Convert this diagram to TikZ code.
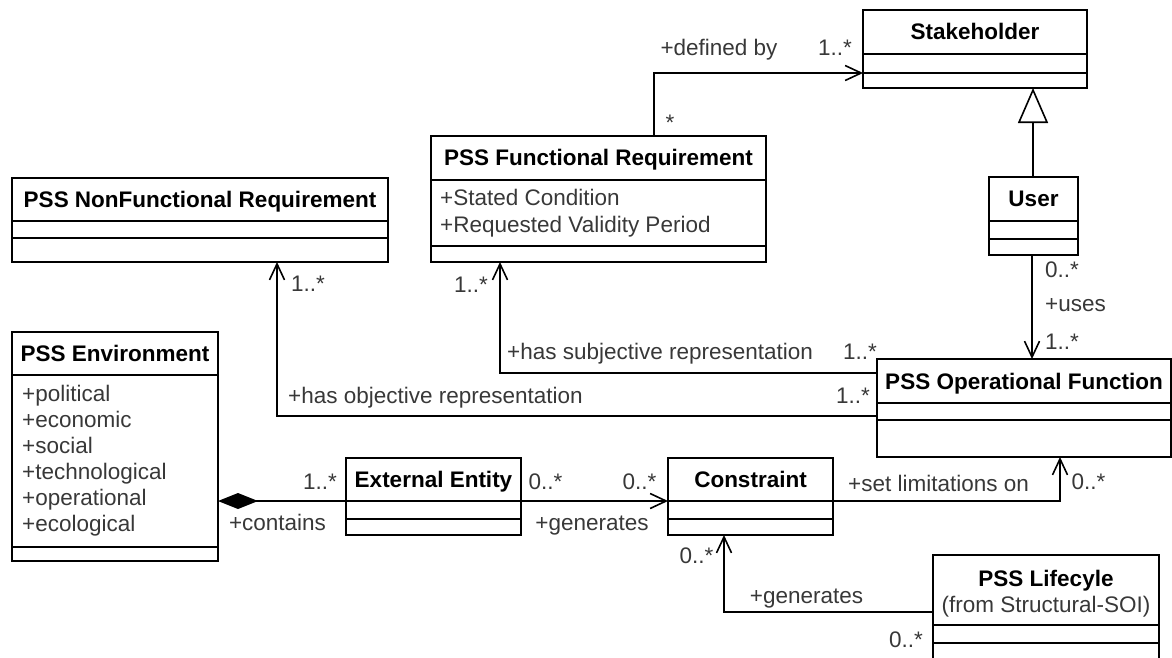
\documentclass[tikz,border=0pt]{standalone}
\usepackage{fontspec}
\setmainfont{Liberation Sans}
\usetikzlibrary{arrows.meta}
\definecolor{lbl}{gray}{0.22}
\newcommand\umlbox[7]{%
  \node[cls, minimum width={#4-#2}, minimum height={#5-#3}] (#1) at (#2,#3) {};
  \draw[divl] (#2,#6) -- (#4,#6);
  \draw[divl] (#2,#7) -- (#4,#7);
}
\begin{document}
\begin{tikzpicture}[x=1pt,y=-1pt,
  cls/.style={draw, line width=1.7pt, rectangle, anchor=north west, inner sep=0pt, outer sep=0pt},
  divl/.style={line width=1.7pt},
  conn/.style={line width=1.7pt},
  barb/.style={conn, -{Straight Barb[length=16pt,width=15pt,line width=1.6pt]}},
  gen/.style={conn, -{Triangle[open, fill=white, length=35pt, width=30pt, line width=1.6pt]}},
  comp/.style={conn, {Diamond[length=40pt, width=16pt]}-},
  title/.style={font=\fontsize{22.5}{27}\selectfont\bfseries, inner sep=0pt, anchor=mid, yshift=-4pt},
  sub/.style={font=\fontsize{22.5}{27}\selectfont, text=lbl, inner sep=0pt, anchor=mid, yshift=-4pt},
  attr/.style={font=\fontsize{22.5}{27}\selectfont, text=lbl, inner sep=0pt, anchor=mid west, yshift=-4pt},
  lab/.style={font=\fontsize{22.5}{27}\selectfont, text=lbl, inner sep=0pt, anchor=mid, yshift=-4pt},
]
\useasboundingbox (0,0) rectangle (1172,657);
\clip (0,0) rectangle (1172,657);

% classes
\umlbox{sh}{863}{10}{1087}{88}{54}{73}
\umlbox{user}{989}{177}{1078}{255}{221}{239}
\umlbox{fr}{431}{136}{766}{262}{180}{246}
\umlbox{nfr}{12}{178}{388}{262}{221}{238}
\umlbox{env}{12}{332}{218}{561}{375}{547}
\umlbox{ee}{346}{458}{521}{535}{501}{519}
\umlbox{con}{668}{458}{833}{535}{501}{519}
\umlbox{of}{877}{359}{1171}{457}{403}{420}
\umlbox{lc}{933}{555}{1159}{672}{625}{643}

% titles
\node[title] (tsh) at (975,33) {Stakeholder};
\node[title] (tuser) at (1033.5,200) {User};
\node[title] (tfr) at (598.5,159) {PSS Functional Requirement};
\node[title] (tnfr) at (200,201) {PSS NonFunctional Requirement};
\node[title] (tenv) at (115,355) {PSS Environment};
\node[title] (tee) at (433.5,481) {External Entity};
\node[title] (tcon) at (750.5,481) {Constraint};
\node[title] (tof) at (1024,383) {PSS Operational Function};
\node[title] (tlc) at (1046,580) {PSS Lifecyle};
\node[sub] (slc) at (1046,606) {(from Structural-SOI)};

% attributes
\node[attr] (a1) at (440,199) {+Stated Condition};
\node[attr] (a2) at (440,226) {+Requested Validity Period};
\node[attr] (e1) at (22,395) {+political};
\node[attr] (e2) at (22,421) {+economic};
\node[attr] (e3) at (22,447) {+social};
\node[attr] (e4) at (22,473) {+technological};
\node[attr] (e5) at (22,499) {+operational};
\node[attr] (e6) at (22,525) {+ecological};

% connectors
\draw[barb] (fr.north -| 654,0) |- (sh.west |- 0,73);
\draw[gen] (user.north -| 1033,0) -- (sh.south -| 1033,0);
\draw[barb] (user.south -| 1032,0) -- (of.north -| 1032,0);
\draw[barb] (of.west |- 0,373) -| (fr.south -| 500,0);
\draw[barb] (of.west |- 0,416) -| (nfr.south -| 277,0);
\draw[comp] (env.east |- 0,501) -- (ee.west |- 0,501);
\draw[barb] (ee.east |- 0,501) -- (con.west |- 0,501);
\draw[barb] (con.east |- 0,501) -| (of.south -| 1060,0);
\draw[barb] (lc.west |- 0,612) -| (con.south -| 724,0);

% connector labels
\node[lab] (l1) at (719,49) {+defined by};
\node[lab] (l2) at (835,49) {1..*};
\node[lab] (l3) at (670,124) {*};
\node[lab] (l4) at (308,285) {1..*};
\node[lab] (l5) at (471,286) {1..*};
\node[attr] (l6) at (507,353) {+has subjective representation};
\node[lab] (l7) at (860,353) {1..*};
\node[attr] (l8) at (288,397) {+has objective representation};
\node[lab] (l9) at (853,397) {1..*};
\node[attr] (l10) at (1045,271) {0..*};
\node[attr] (l11) at (1045,305) {+uses};
\node[attr] (l12) at (1045,343) {1..*};
\node[lab] (l13) at (320,483) {1..*};
\node[lab] (l14) at (277.5,524) {+contains};
\node[lab] (l15) at (545.5,483) {0..*};
\node[lab] (l16) at (639.5,483) {0..*};
\node[lab] (l17) at (592,524) {+generates};
\node[lab] (l18) at (938.5,485) {+set limitations on};
\node[lab] (l19) at (1088.5,483) {0..*};
\node[lab] (l20) at (696.5,557) {0..*};
\node[lab] (l21) at (806.5,597) {+generates};
\node[lab] (l22) at (906,641) {0..*};
\end{tikzpicture}
\end{document}
